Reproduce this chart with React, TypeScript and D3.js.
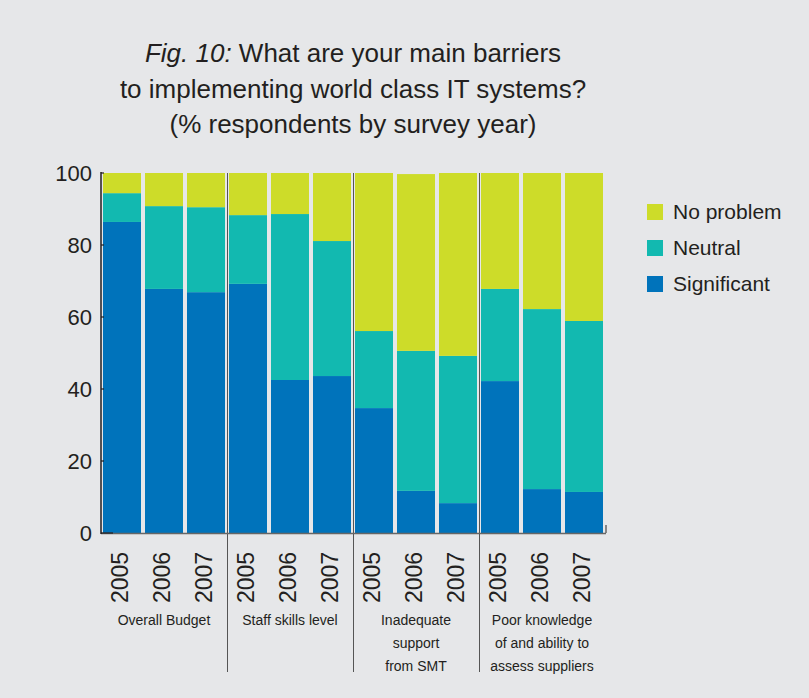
import React from "react";
import * as d3 from "d3";

const categories = [
  ["Overall Budget"],
  ["Staff skills level"],
  ["Inadequate", "support", "from SMT"],
  ["Poor knowledge", "of and ability to", "assess suppliers"],
];
const years = ["2005", "2006", "2007"];
const seriesNames = ["Significant", "Neutral", "No problem"];
// values per bar, in order category x year
const significant = [86.4, 67.8, 66.9, 69.2, 42.5, 43.6, 34.7, 11.7, 8.3, 42.2, 12.2, 11.4];
const neutral = [8.0, 23.0, 23.6, 19.1, 46.1, 37.5, 21.4, 38.9, 40.9, 25.6, 50.0, 47.5];
const noProblem = [5.6, 9.2, 9.5, 11.7, 11.4, 18.9, 43.9, 49.1, 50.8, 32.2, 37.8, 41.1];
const yTicks = [0, 20, 40, 60, 80, 100];

const colors = ["#0073bb", "#12b9b0", "#cddc29"];
const W = 809;
const H = 698;
const FONT = "'Liberation Sans', Arial, sans-serif";

export default function App() {
  const left = 101;
  const right = 605;
  const top = 173;
  const bottom = 533;
  const catKeys = categories.map((c, i) => String(i));
  const x0 = d3.scaleBand().domain(catKeys).range([left, right]).paddingInner(0).paddingOuter(0);
  const p = 4 / 42;
  const x1 = d3.scaleBand().domain(years).range([0, x0.bandwidth()]).paddingInner(p).paddingOuter(p / 2);
  const y = d3.scaleLinear().domain([0, 100]).range([bottom, top]);

  const rows = significant.map((s, i) => ({
    cat: String(Math.floor(i / 3)),
    year: years[i % 3],
    Significant: s,
    Neutral: neutral[i],
    "No problem": noProblem[i],
  }));
  const stacked = d3.stack<any>().keys(seriesNames)(rows);

  const legendItems = [
    { name: "No problem", color: colors[2] },
    { name: "Neutral", color: colors[1] },
    { name: "Significant", color: colors[0] },
  ];

  return (
    <svg width={W} height={H} style={{ display: "block", position: "absolute", left: 0, top: 0 }} fontFamily={FONT}>
      <rect x={0} y={0} width={W} height={H} fill="#e6e7e9" />
      {/* title */}
      <g fill="#231f20" fontSize={26} textAnchor="middle">
        <text x={353} y={62}>
          <tspan fontStyle="italic">Fig. 10:</tspan>
          <tspan> What are your main barriers</tspan>
        </text>
        <text x={353} y={98}>to implementing world class IT systems?</text>
        <text x={353} y={133}>(% respondents by survey year)</text>
      </g>
      {/* dividers */}
      {catKeys.slice(1).map((k) => (
        <line key={k} x1={x0(k)! + 0.5} x2={x0(k)! + 0.5} y1={top} y2={672} stroke="#555" strokeWidth={1} />
      ))}
      {/* bars */}
      {stacked.map((s, si) => (
        <g key={s.key} fill={colors[si]}>
          {s.map((d, i) => (
            <rect
              key={i}
              x={x0(d.data.cat)! + x1(d.data.year)!}
              width={x1.bandwidth()}
              y={y(d[1])}
              height={y(d[0]) - y(d[1])}
            />
          ))}
        </g>
      ))}
      {/* axes */}
      <line x1={left} x2={right + 1} y1={bottom + 0.5} y2={bottom + 0.5} stroke="#666" strokeWidth={1.5} />
      <line x1={right + 1} x2={right + 1} y1={bottom} y2={bottom - 8} stroke="#666" strokeWidth={1.5} />
      <line x1={left} x2={left} y1={top - 1} y2={bottom + 1} stroke="#231f20" strokeWidth={1.5} />
      {yTicks.map((t) => (
        <g key={t}>
          <line x1={left} x2={t === 0 ? left + 12 : left + 3} y1={y(t)} y2={y(t)} stroke="#231f20" strokeWidth={1.2} />
          <text x={92} y={y(t)} dy="0.36em" textAnchor="end" fontSize={22} fill="#231f20">
            {t}
          </text>
        </g>
      ))}
      {/* year labels */}
      {rows.map((r, i) => {
        const cx = x0(r.cat)! + x1(r.year)! + x1.bandwidth() / 2 - 2;
        return (
          <text
            key={i}
            transform={`translate(${cx},603) rotate(-90)`}
            dy="0.36em"
            fontSize={23}
            fill="#231f20"
          >
            {r.year}
          </text>
        );
      })}
      {/* category labels */}
      {categories.map((lines, ci) => (
        <text key={ci} textAnchor="middle" fontSize={14} fill="#231f20">
          {lines.map((l, li) => (
            <tspan key={li} x={x0(String(ci))! + x0.bandwidth() / 2} y={625 + li * 23}>
              {l}
            </tspan>
          ))}
        </text>
      ))}
      {/* legend */}
      {legendItems.map((it, i) => (
        <g key={it.name}>
          <rect x={647} y={204 + i * 36} width={16} height={16} fill={it.color} />
          <text x={673} y={219 + i * 36} fontSize={21} fill="#231f20">
            {it.name}
          </text>
        </g>
      ))}
    </svg>
  );
}
